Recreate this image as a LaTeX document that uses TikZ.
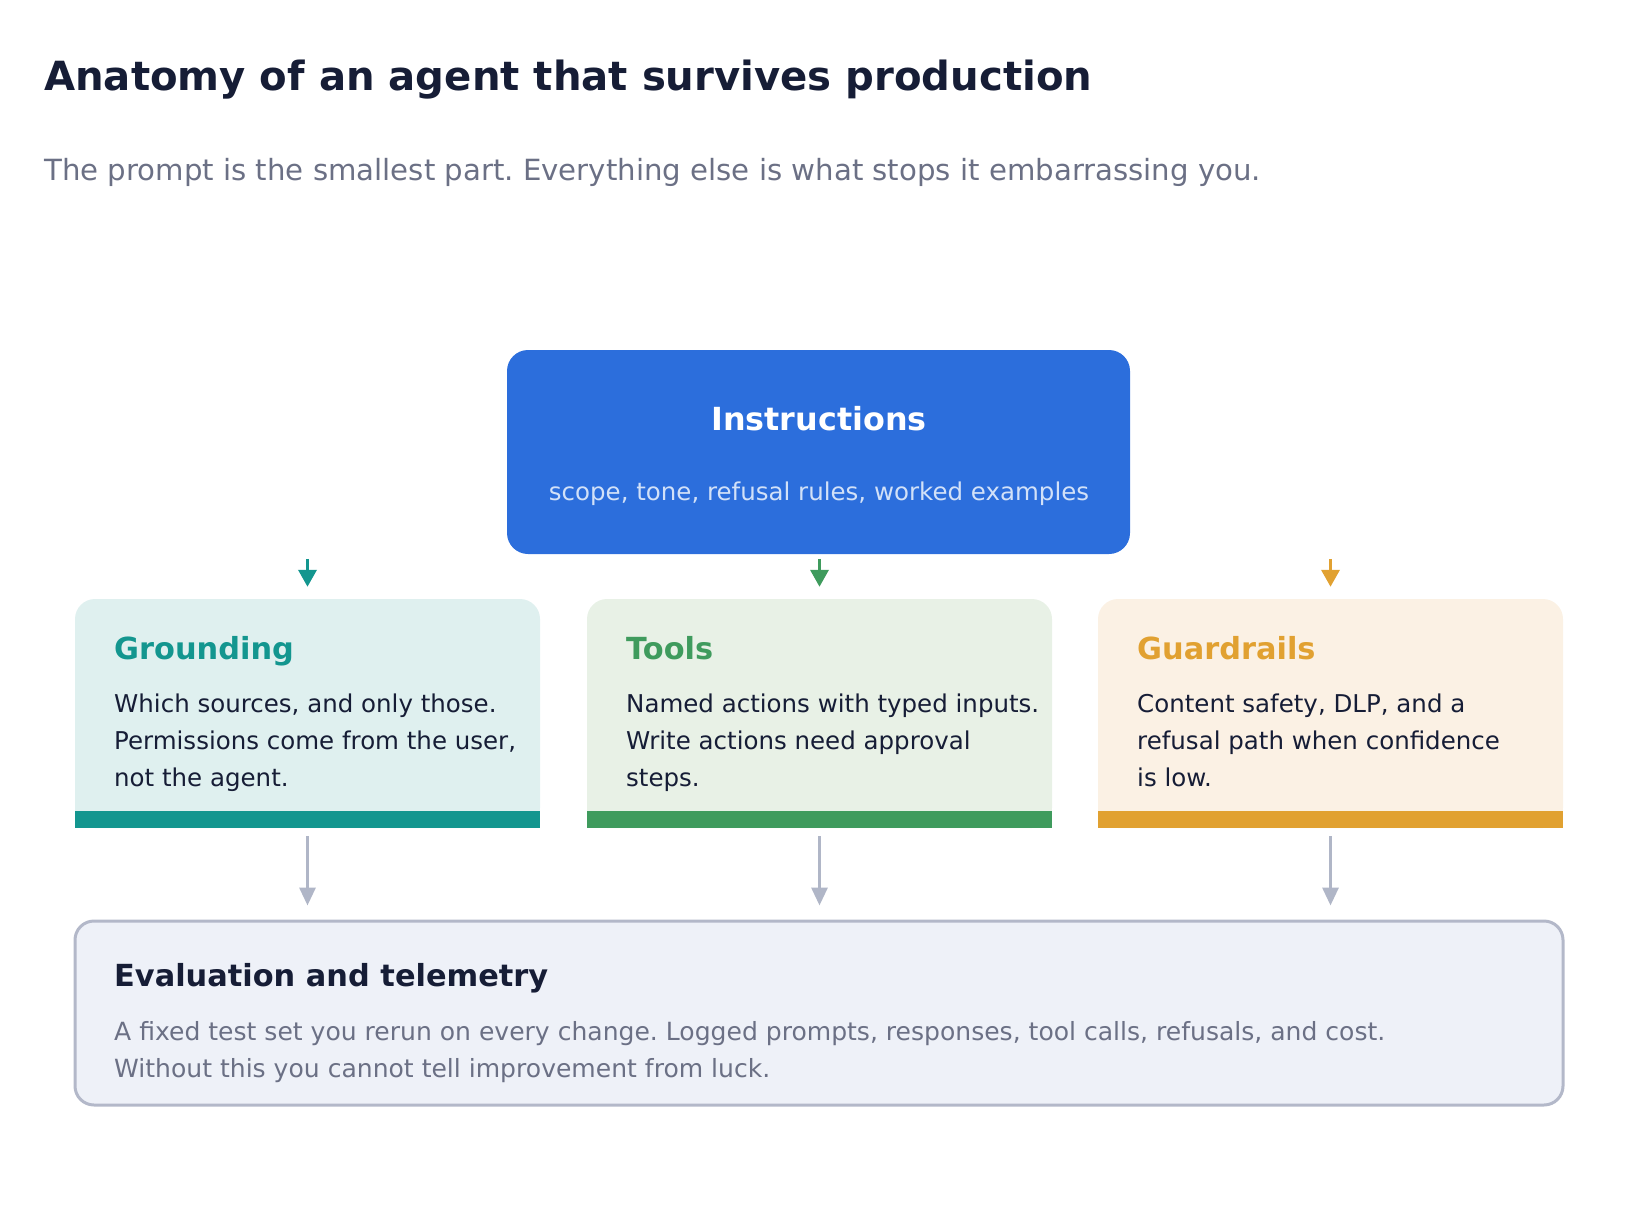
\documentclass[tikz,border=0pt]{standalone}
\usepackage{fontspec}
\setmainfont{DejaVu Sans}
\usepackage{tikz}
\usetikzlibrary{arrows.meta,positioning,calc}

\definecolor{ink}{HTML}{161D36}
\definecolor{muted}{HTML}{6B7085}
\definecolor{instrblue}{HTML}{2C6EDC}
\definecolor{instrsub}{HTML}{D2E1F8}
\definecolor{tealc}{HTML}{13968F}
\definecolor{tealbg}{HTML}{DFF0EF}
\definecolor{greenc}{HTML}{3F9B5D}
\definecolor{greenbg}{HTML}{E8F1E6}
\definecolor{amberc}{HTML}{E1A131}
\definecolor{amberbg}{HTML}{FBF1E4}
\definecolor{evalbg}{HTML}{EEF1F8}
\definecolor{evaledge}{HTML}{B3B8C9}
\definecolor{flowgray}{HTML}{B0B6C7}

\begin{document}
\frenchspacing
\begin{tikzpicture}[x=1pt, y=-1pt,
    txt/.style={inner sep=0pt, anchor=base west},
    cardbox/.style={inner sep=0pt, minimum width=465pt, minimum height=229pt},
    cardttl/.style={txt, font=\fontsize{30.4}{36}\selectfont\bfseries},
    cardbody/.style={txt, align=left, text=ink, font=\fontsize{24.5}{36.8}\selectfont},
    feed/.style={line width=3.5pt, -{Triangle[length=17pt, width=18pt]}},
    flow/.style={line width=3.2pt, flowgray, -{Triangle[length=18pt, width=16pt]}}]
  \useasboundingbox (0,0) rectangle (1638,1212);
  % --- heading ---
  \node[txt, text=ink, font=\fontsize{40.2}{48}\selectfont\bfseries] (title) at (44,91)
    {Anatomy of an agent that survives production};
  \node[txt, text=muted, font=\fontsize{29.2}{35}\selectfont] (subtitle) at (44,180)
    {The prompt is the smallest part. Everything else is what stops it embarrassing you.};
  % --- instructions ---
  \node[fill=instrblue, rounded corners=21pt, minimum width=623pt, minimum height=204pt,
        inner sep=0pt] (instr) at (818.5,452) {};
  \node[text=white, font=\fontsize{31.8}{38}\selectfont\bfseries, anchor=base] (instrttl)
    at (819,430) {Instructions};
  \node[text=instrsub, font=\fontsize{24.5}{29}\selectfont, anchor=base] (instrsub)
    at (819,500) {scope, tone, refusal rules, worked examples};
  % --- three cards (fill, square bottom, colour bar) ---
  \foreach \nm/\cx/\bg/\fg in {grd/307.5/tealbg/tealc, tls/819.5/greenbg/greenc, grl/1330.5/amberbg/amberc}{
    \node[cardbox, fill=\bg, rounded corners=20pt] (\nm) at (\cx,713.5) {};
    \fill[\bg] ($(\nm.south west)+(0,-30)$) rectangle (\nm.south east);
    \fill[\fg] ($(\nm.south west)+(0,-17)$) rectangle (\nm.south east);
    \coordinate (\nm top) at ($(\nm.north)+(0,-40)$);
    \draw[feed, \fg] (\nm top) -- ($(\nm.north)+(0,-12)$);
  }
  % card texts
  \node[cardttl, text=tealc] (grdttl) at (114,659) {Grounding};
  \node[cardbody] (grdbody) at (114,786.5)
    {Which sources, and only those.\\Permissions come from the user,\\not the agent.};
  \node[cardttl, text=greenc] (tlsttl) at (626,659) {Tools};
  \node[cardbody] (tlsbody) at (626,786.5)
    {Named actions with typed inputs.\\Write actions need approval\\steps.};
  \node[cardttl, text=amberc] (grlttl) at (1137,659) {Guardrails};
  \node[cardbody] (grlbody) at (1137,786.5)
    {Content safety, DLP, and a\\refusal path when confidence\\is low.};
  % --- evaluation ---
  \node[fill=evalbg, draw=evaledge, line width=3pt, rounded corners=19pt,
        minimum width=1488pt, minimum height=184pt, inner sep=0pt] (eval) at (819,1013) {};
  \node[txt, text=ink, font=\fontsize{30.4}{36}\selectfont\bfseries] (evalttl) at (114,986)
    {Evaluation and telemetry};
  \node[txt, align=left, text=muted, font=\fontsize{25.05}{36.8}\selectfont] (evalbody) at (114,1077)
    {A fixed test set you rerun on every change. Logged prompts, responses, tool calls, refusals, and cost.\\Without this you cannot tell improvement from luck.};
  % flows down into evaluation
  \foreach \nm in {grd, tls, grl}{
    \draw[flow] ($(\nm.south)+(0,8)$) -- ($(\nm.south |- eval.north)+(0,-14)$);
  }
\end{tikzpicture}
\end{document}
